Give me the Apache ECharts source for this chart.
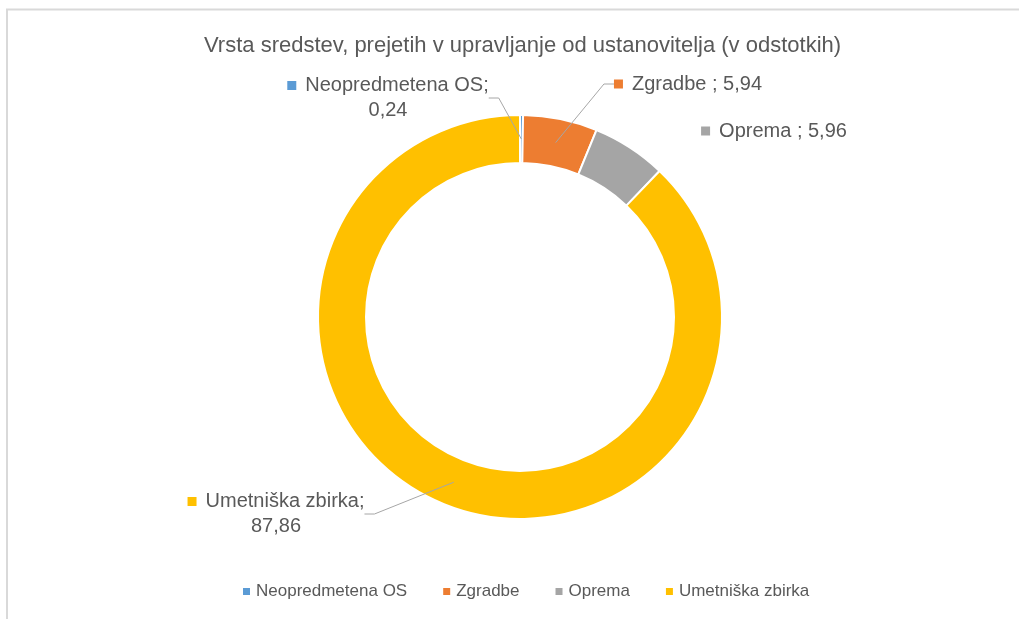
<!DOCTYPE html>
<html>
<head>
<meta charset="utf-8">
<script src="https://cdn.jsdelivr.net/npm/echarts@6/dist/echarts.min.js"></script>
<style>
  html, body { margin: 0; padding: 0; background: #fff; }
  #chart { width: 1019px; height: 619px; }
</style>
</head>
<body>
<div id="chart"></div>
<script>
const titleText = "Vrsta sredstev, prejetih v upravljanje od ustanovitelja (v odstotkih)";
const categories = ["Neopredmetena OS", "Zgradbe", "Oprema", "Umetniška zbirka"];
const values = [0.24, 5.94, 5.96, 87.86];
const colors = ["#5B9BD5", "#ED7D31", "#A5A5A5", "#FFC000"];

// where each data label sits (Excel-like manual placement)
const labelPos = [
  { x: 388, y: 98 },
  { x: 688, y: 84 },
  { x: 774, y: 131 },
  { x: 276, y: 514 }
];

const fontFamily = "'Liberation Sans', Arial, sans-serif";
const textColor = "#595959";

const fmt = (v) => v.toFixed(2).replace(".", ",");

const chart = echarts.init(document.getElementById("chart"));

const ringData = categories.map((name, i) => ({
  name,
  value: values[i],
  itemStyle: { color: colors[i] }
}));

// same values on an invisible pie, so the leader lines start mid-ring
const labelData = categories.map((name, i) => {
  const item = { name, value: values[i] };
  if (i === 2) item.labelLine = { show: false };
  return item;
});

const rich = { g: { width: 9 } };
colors.forEach((c, i) => {
  rich["s" + i] = { width: 9, height: 9, backgroundColor: c };
});

chart.setOption({
  animation: false,
  title: {
    text: titleText,
    left: 199,
    top: 30,
    textStyle: { fontFamily, fontSize: 22, fontWeight: "normal", color: textColor }
  },
  legend: {
    bottom: 14,
    left: 236,
    itemWidth: 9,
    itemHeight: 9,
    itemGap: 34,
    icon: "rect",
    textStyle: { fontFamily, fontSize: 17, color: textColor },
    data: categories
  },
  graphic: [
    {
      type: "polyline",
      shape: { points: [[7, 619], [7, 9.5], [1019, 9.5]] },
      style: { stroke: "#d9d9d9", lineWidth: 2, fill: null },
      silent: true
    }
  ],
  series: [
    {
      type: "pie",
      z: 2,
      center: [520, 317],
      radius: [154, 202],
      startAngle: 90,
      clockwise: true,
      itemStyle: { borderColor: "#fff", borderWidth: 2 },
      label: { show: false },
      labelLine: { show: false },
      emphasis: { disabled: true },
      data: ringData
    },
    {
      type: "pie",
      z: 5,
      center: [520, 317],
      radius: [0, 178],
      startAngle: 90,
      clockwise: true,
      silent: true,
      avoidLabelOverlap: false,
      itemStyle: { color: "rgba(0,0,0,0)", borderWidth: 0 },
      label: {
        show: true,
        fontFamily,
        fontSize: 20,
        color: textColor,
        lineHeight: 25,
        align: "center",
        formatter: (p) => {
          const idx = p.dataIndex;
          const sq = "{s" + idx + "|}{g|}";
          if (idx === 0 || idx === 3) {
            return sq + p.name + ";\n" + fmt(p.value);
          }
          return sq + p.name + " ; " + fmt(p.value);
        },
        rich
      },
      labelLine: {
        show: true,
        length: 10,
        length2: 10,
        lineStyle: { color: "#a6a6a6", width: 1 }
      },
      labelLayout: (params) => {
        const pos = labelPos[params.dataIndex];
        return { x: pos.x, y: pos.y, align: "center", verticalAlign: "middle" };
      },
      emphasis: { disabled: true },
      data: labelData
    }
  ]
});
</script>
</body>
</html>
